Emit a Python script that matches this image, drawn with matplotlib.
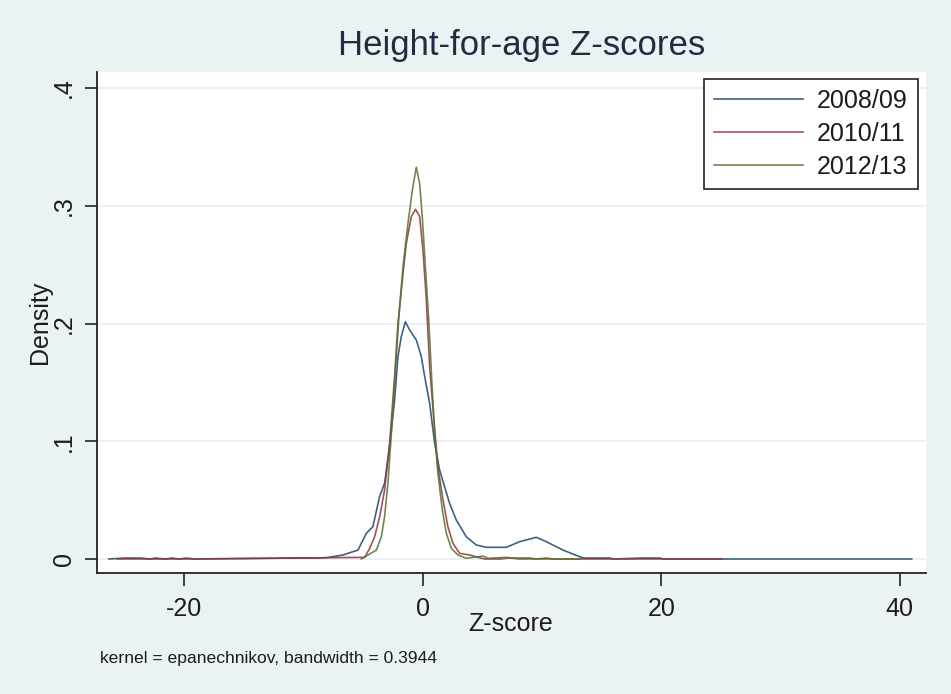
import matplotlib
matplotlib.use('Agg')
import matplotlib.pyplot as plt

# kdensity curves (Z-score, density)
labels = ['2008/09', '2010/11', '2012/13']
colors = ['#1A476F', '#90353B', '#55752F']

x_0809 = [-26.3, -25.0, -24.3, -23.6, -22.9, -22.4, -21.6, -21.0, -20.4, -19.8, -19.2,
          -10.5, -8.6, -8.0, -6.68, -5.42, -4.72, -4.17, -3.61, -3.19, -2.77, -2.35,
          -2.07, -1.79, -1.45, -1.09, -0.53, -0.11, 0.17, 0.59, 1.01, 1.42, 1.84, 2.26,
          2.82, 3.66, 4.5, 5.34, 7.02, 8.13, 9.53, 10.37, 11.76, 13.3, 13.5, 15.7, 16.0,
          18.4, 19.9, 20.2, 41.0]
y_0809 = [0, 0.0008, 0.0008, 0.0008, 0, 0.0008, 0, 0.0008, 0, 0.0008, 0,
          0.0008, 0.0008, 0.0012, 0.0034, 0.0076, 0.0218, 0.0274, 0.0529, 0.0643, 0.0954, 0.135,
          0.1718, 0.1888, 0.2015, 0.1945, 0.186, 0.1718, 0.155, 0.132, 0.098, 0.0756, 0.0614, 0.0473,
          0.0331, 0.0189, 0.0119, 0.0099, 0.0099, 0.0147, 0.0184, 0.0147, 0.0076, 0.0014, 0.0008, 0.0008, 0,
          0.0008, 0.0008, 0, 0]

x_1011 = [-25.6, -19.5, -4.86, -4.44, -4.02, -3.6, -3.19, -2.77, -2.35, -2.07, -1.7,
          -1.37, -0.95, -0.59, -0.25, 0.03, 0.31, 0.59, 0.92, 1.28, 1.71, 2.12, 2.54,
          3.1, 3.94, 4.78, 5.2, 6.5, 7.2, 9.0, 9.5, 10.4, 10.9, 25.1]
y_1011 = [0, 0, 0.0014, 0.009, 0.019, 0.036, 0.0586, 0.098, 0.155, 0.2, 0.237,
          0.268, 0.2907, 0.297, 0.2907, 0.262, 0.22, 0.163, 0.121, 0.078, 0.05, 0.0274, 0.0133,
          0.0048, 0.0034, 0.001, 0, 0, 0.0008, 0.0008, 0, 0.0008, 0, 0]

x_1213 = [-5.14, -4.58, -3.88, -3.46, -3.19, -2.91, -2.62, -2.35, -1.99, -1.65, -1.23,
          -0.86, -0.53, -0.25, -0.03, 0.23, 0.5, 0.78, 1.01, 1.28, 1.65, 1.99, 2.41,
          2.96, 3.66, 5.06, 5.48, 7.02, 8.0, 13.2]
y_1213 = [0, 0.0034, 0.0076, 0.019, 0.036, 0.0643, 0.1067, 0.149, 0.2058, 0.248, 0.285,
          0.3134, 0.3327, 0.319, 0.2907, 0.248, 0.2058, 0.149, 0.1067, 0.0728, 0.0416, 0.0218, 0.009,
          0.0034, 0.0006, 0.0025, 0.0006, 0.0014, 0, 0]

xticks = [-20, 0, 20, 40]
yticks = [0, 0.1, 0.2, 0.3, 0.4]
yticklabels = ['0', '.1', '.2', '.3', '.4']

plt.rcParams['font.family'] = ['Liberation Sans', 'DejaVu Sans']
plt.rcParams['axes.unicode_minus'] = False
bg = '#EAF2F3'
txt = '#1c1c1c'
fs = 18

fig = plt.figure(figsize=(9.51, 6.94), dpi=100, facecolor=bg)
ax = fig.add_axes([97/951, 1-573/694, 829/951, 501/694])
ax.set_facecolor('white')

for xs, ys, c, lab in zip([x_0809, x_1011, x_1213], [y_0809, y_1011, y_1213], colors, labels):
    ax.plot(xs, ys, color=c, lw=1.2, label=lab, alpha=0.85)

ax.set_xlim(-27.3, 42.2)
ax.set_ylim(-0.0119, 0.4136)
ax.set_xticks(xticks)
ax.set_yticks(yticks)
ax.set_yticklabels(yticklabels, rotation=90, va='center')
for y in yticks:
    ax.axhline(y, color='#E6EEF1', lw=1.2, zorder=0)

for s in ['top', 'right']:
    ax.spines[s].set_visible(False)
for s in ['left', 'bottom']:
    ax.spines[s].set_linewidth(1.3)
    ax.spines[s].set_color('#222222')
ax.tick_params(direction='out', length=9, width=1.2, color='#222222',
               labelsize=fs, labelcolor=txt, pad=6)
ax.tick_params(axis='x', pad=8)

leg = ax.legend(loc='upper right', bbox_to_anchor=(0.990, 0.986), borderaxespad=0,
                fontsize=fs, handlelength=3.56, handletextpad=0.56, labelspacing=0.36,
                borderpad=0.4, fancybox=False, framealpha=1, edgecolor='#222222')
leg.get_frame().set_linewidth(1.2)
for t in leg.get_texts():
    t.set_color(txt)

fig.text(522/951, 1-45/694, 'Height-for-age Z-scores', ha='center', va='center',
         fontsize=25, color='#1E2D40')
fig.text(511/951, 1-624/694, 'Z-score', ha='center', va='center', fontsize=fs, color=txt)
fig.text(40/951, 1-322/694, 'Density', ha='center', va='center', rotation=90,
         fontsize=fs, color=txt)
fig.text(100/951, 1-658/694, 'kernel = epanechnikov, bandwidth = 0.3944', ha='left',
         va='center', fontsize=12.6, color=txt)

fig.savefig('out.png', dpi=100, facecolor=bg)
